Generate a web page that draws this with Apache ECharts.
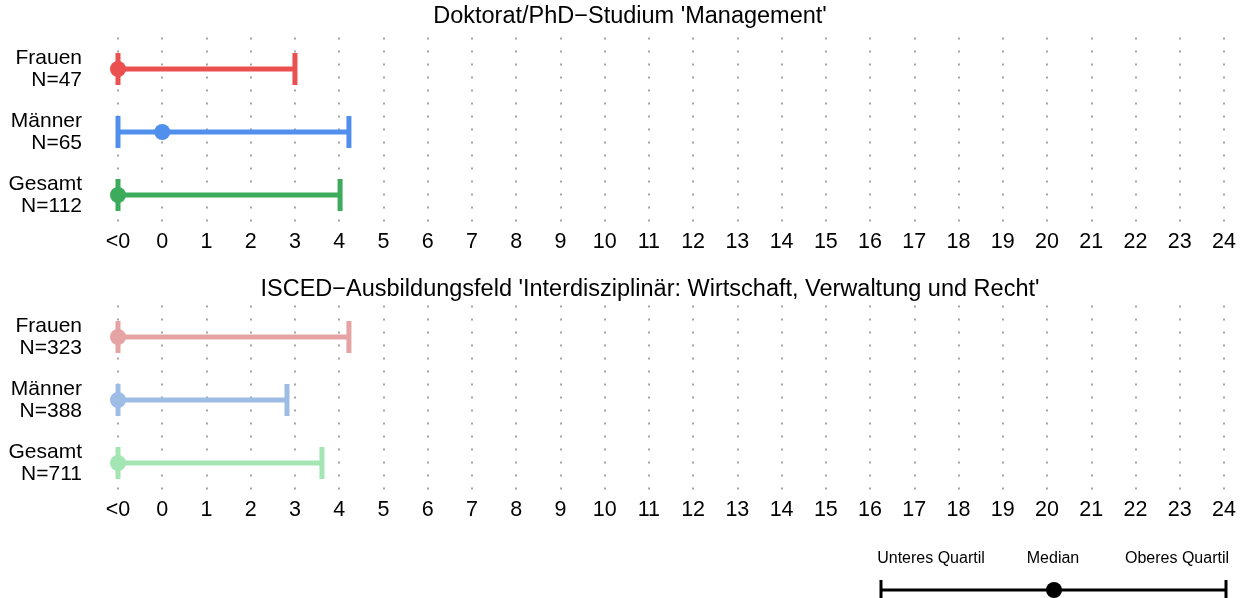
<!DOCTYPE html>
<html>
<head>
<meta charset="utf-8">
<script src="https://cdn.jsdelivr.net/npm/echarts@6/dist/echarts.min.js"></script>
<style>
  html, body { margin: 0; padding: 0; background: #fff; }
  #chart { width: 1250px; height: 598px; }
</style>
</head>
<body>
<div id="chart"></div>
<script>
// Daten
const groups = ['Frauen', 'Männer', 'Gesamt']
const titles = ["Doktorat/PhD\u2212Studium 'Management'", "ISCED\u2212Ausbildungsfeld 'Interdisziplinär: Wirtschaft, Verwaltung und Recht'"]
const n1 = [47, 65, 112]
const n2 = [323, 388, 711]
// Panel 1: unteres Quartil, Median, oberes Quartil (-1 = "<0")
const q1_1 = [-1, -1, -1]
const med1 = [-1, 0, -1]
const q3_1 = [3.0, 4.22, 4.02]
// Panel 2
const q1_2 = [-1, -1, -1]
const med2 = [-1, -1, -1]
const q3_2 = [4.22, 2.82, 3.61]
const xTicks = ['<0', '0', '1', '2', '3', '4', '5', '6', '7', '8', '9', '10', '11', '12',
  '13', '14', '15', '16', '17', '18', '19', '20', '21', '22', '23', '24']

const colors1 = ['#E9504F', '#5090EC', '#3CAB5C']
const colors2 = ['#E6A3A3', '#9EBDE5', '#A3E6B3']

let myChart = echarts.init(document.getElementById('chart'))

const rows = (ns) => groups.map((g, i) => g + '\nN=' + ns[i])
const toData = (q1, med, q3) => q1.map((v, i) => [i, v, med[i], q3[i]])

// Fehlerbalken zeichnen
const renderBar = (palette) => (params, api) => {
  const row = api.value(0)
  const a = api.coord([api.value(1), row])
  const m = api.coord([api.value(2), row])
  const b = api.coord([api.value(3), row])
  const c = palette[row]
  const h = 16
  return {
    type: 'group',
    children: [
      { type: 'line', shape: { x1: a[0], y1: a[1], x2: b[0], y2: b[1] }, style: { stroke: c, lineWidth: 5 } },
      { type: 'line', shape: { x1: a[0], y1: a[1] - h, x2: a[0], y2: a[1] + h }, style: { stroke: c, lineWidth: 5 } },
      { type: 'line', shape: { x1: b[0], y1: b[1] - h, x2: b[0], y2: b[1] + h }, style: { stroke: c, lineWidth: 5 } },
      { type: 'circle', shape: { cx: m[0], cy: m[1], r: 8 }, style: { fill: c } }
    ]
  }
}

const xAxisBase = (gridIndex) => ({
  type: 'value',
  gridIndex: gridIndex,
  min: -1,
  max: 24,
  interval: 1,
  axisLine: { show: false },
  axisTick: { show: false },
  axisLabel: {
    fontSize: 21.5,
    color: '#000',
    margin: 5,
    fontFamily: 'Liberation Sans',
    formatter: v => xTicks[Math.round(v) + 1]
  },
  splitLine: { show: true, lineStyle: { color: '#a6a6a6', width: 2, type: [2, 11] } }
})

const yAxisBase = (gridIndex, ns) => ({
  type: 'category',
  gridIndex: gridIndex,
  inverse: true,
  data: rows(ns),
  axisLine: { show: false },
  axisTick: { show: false },
  axisLabel: {
    fontSize: 21,
    lineHeight: 22,
    color: '#000',
    margin: 36,
    align: 'right',
    fontFamily: 'Liberation Sans'
  }
})

const titleStyle = { fontSize: 23.5, fontWeight: 'normal', color: '#000', fontFamily: 'Liberation Sans' }

const options = {
  animation: false,
  title: [
    { text: titles[0], left: 630, top: 5, padding: 0, textAlign: 'center', textStyle: titleStyle },
    { text: titles[1], left: 650, top: 278, padding: 0, textAlign: 'center', textStyle: titleStyle }
  ],
  grid: [
    { left: 118, right: 26, top: 37.5, height: 189 },
    { left: 118, right: 26, top: 305.5, height: 189 }
  ],
  xAxis: [xAxisBase(0), xAxisBase(1)],
  yAxis: [yAxisBase(0, n1), yAxisBase(1, n2)],
  series: [
    { type: 'custom', xAxisIndex: 0, yAxisIndex: 0, renderItem: renderBar(colors1),
      encode: { x: [1, 2, 3], y: 0 }, data: toData(q1_1, med1, q3_1), clip: false },
    { type: 'custom', xAxisIndex: 1, yAxisIndex: 1, renderItem: renderBar(colors2),
      encode: { x: [1, 2, 3], y: 0 }, data: toData(q1_2, med2, q3_2), clip: false }
  ],
  graphic: [
    // Legende
    { type: 'line', shape: { x1: 881, y1: 590, x2: 1226, y2: 590 }, style: { stroke: '#000', lineWidth: 3 } },
    { type: 'line', shape: { x1: 881, y1: 580, x2: 881, y2: 600 }, style: { stroke: '#000', lineWidth: 3 } },
    { type: 'line', shape: { x1: 1226, y1: 580, x2: 1226, y2: 600 }, style: { stroke: '#000', lineWidth: 3 } },
    { type: 'circle', shape: { cx: 1054, cy: 590, r: 8 }, style: { fill: '#000' } },
    { type: 'text', x: 931, y: 559, style: { text: 'Unteres Quartil', fontSize: 16, fill: '#000', align: 'center', verticalAlign: 'middle', fontFamily: 'Liberation Sans' } },
    { type: 'text', x: 1053, y: 559, style: { text: 'Median', fontSize: 16, fill: '#000', align: 'center', verticalAlign: 'middle', fontFamily: 'Liberation Sans' } },
    { type: 'text', x: 1177, y: 559, style: { text: 'Oberes Quartil', fontSize: 16, fill: '#000', align: 'center', verticalAlign: 'middle', fontFamily: 'Liberation Sans' } }
  ]
}
myChart.setOption(options)
</script>
</body>
</html>
